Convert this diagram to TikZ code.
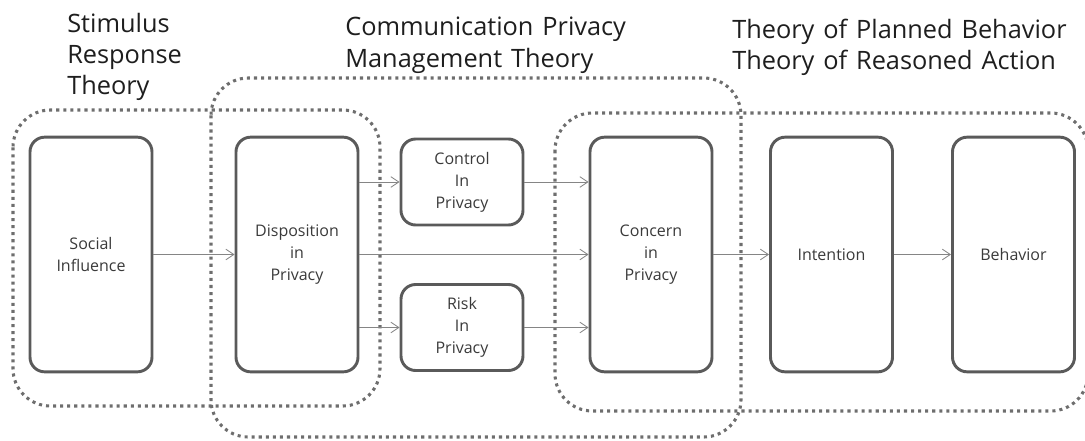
\documentclass[tikz,border=0pt]{standalone}
\usepackage{fontspec}
\setmainfont{Open Sans}
\newfontfamily\titlefont[WordSpace=1.35]{Open Sans}
\usetikzlibrary{arrows.meta}
\definecolor{boxgray}{HTML}{5A5A5A}
\definecolor{dotgray}{HTML}{6E6E6E}
\definecolor{linegray}{HTML}{858585}
\definecolor{textgray}{HTML}{3A3A3A}
\definecolor{titlegray}{HTML}{1E1E1E}
\begin{document}
\begin{tikzpicture}[x=0.75pt, y=-0.75pt,
    stage/.style={draw=boxgray, line width=2.2pt, rounded corners=11pt,
      minimum width=91.5pt, minimum height=176pt, inner sep=0pt,
      align=center, text=textgray, font=\fontsize{12}{16.5}\selectfont},
    minibox/.style={stage, minimum height=64.5pt},
    region/.style={draw=dotgray, line width=2.3pt, dash pattern=on 2.3pt off 3pt,
      rounded corners=28pt},
    theory/.style={anchor=north west, align=left, inner sep=0pt, text=titlegray,
      font=\titlefont\fontsize{19}{23.4}\selectfont},
    flow/.style={draw=linegray, line width=0.6pt, -{Straight Barb[length=6pt,width=8pt]}}]
  \useasboundingbox (0,0) rectangle (1085,440);

  \draw[region] (13,110) rectangle (380,406);
  \draw[region] (211,78) rectangle (741,437);
  \draw[region] (555,113) rectangle (1088,411);

  \node[theory] (srt) at (67,12.5) {Stimulus\\Response\\Theory};
  \node[theory] (cpm) at (345,17) {Communication Privacy\\Management Theory};
  \node[theory] (tpb) at (732,18.5) {Theory of Planned Behavior\\Theory of Reasoned Action};

  \node[stage] (social) at (91,254.5) {Social\\Influence};
  \node[stage] (disp) at (297,254.5) {Disposition\\in\\Privacy};
  \node[minibox] (ctrl) at (462,182) {Control\\In\\Privacy};
  \node[minibox] (risk) at (462,327.5) {Risk\\In\\Privacy};
  \node[stage] (concern) at (651,254.5) {Concern\\in\\Privacy};
  \node[stage] (intent) at (831.5,254.5) {Intention};
  \node[stage] (behav) at (1013.5,254.5) {Behavior};

  \draw[flow] (social) -- (disp);
  \draw[flow] (disp.east |- ctrl.west) -- (ctrl.west);
  \draw[flow] (disp.east |- risk.west) -- (risk.west);
  \draw[flow] (disp) -- (concern);
  \draw[flow] (ctrl.east) -- (ctrl.east -| concern.west);
  \draw[flow] (risk.east) -- (risk.east -| concern.west);
  \draw[flow] (concern) -- (intent);
  \draw[flow] (intent) -- (behav);
\end{tikzpicture}
\end{document}
